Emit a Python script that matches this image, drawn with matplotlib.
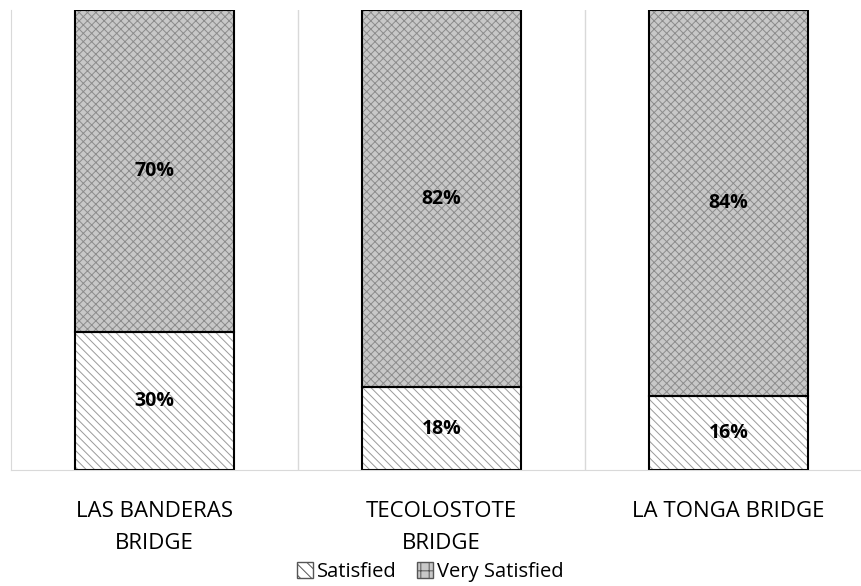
import matplotlib.pyplot as plt
import numpy as np
from matplotlib.patches import Patch

plt.rcParams['font.family'] = ['Open Sans', 'DejaVu Sans']
plt.rcParams['hatch.linewidth'] = 0.7

categories = ['LAS BANDERAS\nBRIDGE', 'TECOLOSTOTE\nBRIDGE', 'LA TONGA BRIDGE']
satisfied = [30, 18, 16]
very_satisfied = [70, 82, 84]

fig = plt.figure(figsize=(8.61, 5.86), dpi=100)
ax = fig.add_axes([11 / 861, 116 / 586, 861 / 861, 460 / 586])

x = np.arange(len(categories))
w = 0.556

# hatch layer (gray), then black outlines on top
ax.bar(x, satisfied, w, color='white', edgecolor='#9a9a9a', hatch='\\\\\\\\', linewidth=0)
ax.bar(x, very_satisfied, w, bottom=satisfied, color='#c8c8c8', edgecolor='#8c8c8c', hatch='xxxx', linewidth=0)
ax.bar(x, satisfied, w, fill=False, edgecolor='black', linewidth=1.5)
ax.bar(x, very_satisfied, w, bottom=satisfied, fill=False, edgecolor='black', linewidth=1.5)

for i in range(len(x)):
    ax.text(x[i], satisfied[i] / 2, f'{satisfied[i]}%', ha='center', va='center',
            fontsize=14, fontweight='bold')
    ax.text(x[i], satisfied[i] + very_satisfied[i] / 2, f'{very_satisfied[i]}%', ha='center',
            va='center', fontsize=14, fontweight='bold')

ax.set_xlim(-0.5, 2.5)
ax.set_ylim(0, 100)
ax.set_yticks([])
ax.set_xticks(x)
ax.set_xticklabels(categories, fontsize=16, linespacing=1.7)
ax.tick_params(axis='x', length=0, pad=22)
for v in [0.5, 1.5]:
    ax.axvline(v, color='#d9d9d9', linewidth=1, zorder=0)
for s in ['top', 'right']:
    ax.spines[s].set_visible(False)
ax.spines['left'].set_color('#d9d9d9')
ax.spines['bottom'].set_color('#d9d9d9')

handles = [Patch(facecolor='white', edgecolor='#555555', hatch='\\\\\\', label='Satisfied'),
           Patch(facecolor='#c8c8c8', edgecolor='#555555', hatch='++', label='Very Satisfied')]
fig.legend(handles=handles, loc='lower center', bbox_to_anchor=(0.5, -0.024), ncol=2,
           frameon=False, fontsize=14.5, handlelength=0.8, handleheight=0.8,
           handletextpad=0.2, columnspacing=1.0)

fig.savefig('out.png')
